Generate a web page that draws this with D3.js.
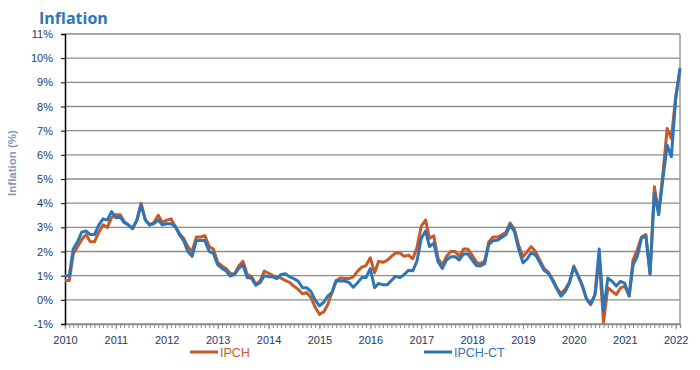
<!DOCTYPE html>
<html>
<head>
<meta charset="utf-8">
<script src="https://cdn.jsdelivr.net/npm/d3@7"></script>
<style>
  body { margin: 0; background: #fff; }
  svg { font-family: "Liberation Sans", Arial, sans-serif; }
</style>
</head>
<body>
<svg width="700" height="370"></svg>
<script>
// monthly values, Jan 2010 .. Feb 2022
const ipch = [
  0.8, 0.8, 1.9, 2.2, 2.5, 2.7, 2.4, 2.4, 2.8, 3.1, 3.0, 3.4,
  3.52, 3.52, 3.25, 3.1, 2.95, 3.3, 4.0, 3.3, 3.1, 3.2, 3.5, 3.2,
  3.3, 3.35, 3.05, 2.75, 2.55, 2.2, 2.0, 2.6, 2.6, 2.65, 2.2, 2.1,
  1.55, 1.4, 1.3, 1.1, 1.05, 1.4, 1.6, 1.05, 0.96, 0.65, 0.78, 1.19,
  1.1, 1.0, 0.95, 0.9, 0.8, 0.72, 0.57, 0.44, 0.25, 0.3, 0.1, -0.3,
  -0.6, -0.5, -0.2, 0.3, 0.8, 0.9, 0.88, 0.88, 0.95, 1.18, 1.35, 1.42,
  1.74, 1.12, 1.6, 1.55, 1.63, 1.8, 1.94, 1.94, 1.8, 1.85, 1.7, 2.15,
  3.05, 3.3, 2.55, 2.65, 1.72, 1.45, 1.8, 2.0, 2.0, 1.8, 2.1, 2.1,
  1.85, 1.55, 1.5, 1.6, 2.4, 2.6, 2.6, 2.68, 2.8, 3.18, 2.92, 2.25,
  1.78, 2.0, 2.2, 2.0, 1.65, 1.3, 1.15, 0.85, 0.5, 0.25, 0.45, 0.75,
  1.4, 1.0, 0.6, 0.05, -0.2, 0.2, 1.7, -0.93, 0.5, 0.36, 0.22, 0.49,
  0.57, 0.16, 1.65, 2.08, 2.6, 2.7, 1.1, 4.68, 3.6, 5.2, 7.09, 6.68,
  8.4, 9.5
];
const ipchCt = [
  1.0, 1.0, 2.1, 2.4, 2.8, 2.85, 2.7, 2.7, 3.1, 3.35, 3.3, 3.65,
  3.4, 3.42, 3.2, 3.1, 2.95, 3.3, 3.93, 3.3, 3.1, 3.15, 3.3, 3.1,
  3.15, 3.15, 3.05, 2.7, 2.45, 2.0, 1.8, 2.45, 2.47, 2.45, 2.0, 1.92,
  1.45, 1.3, 1.2, 0.98, 1.05, 1.3, 1.45, 0.92, 0.89, 0.6, 0.71, 1.0,
  0.96, 0.95, 0.88, 1.05, 1.08, 0.95, 0.88, 0.78, 0.5, 0.5, 0.35, 0.0,
  -0.25, -0.1, 0.15, 0.3, 0.78, 0.78, 0.78, 0.72, 0.52, 0.7, 0.92, 0.92,
  1.29, 0.5, 0.68, 0.62, 0.62, 0.8, 0.98, 0.92, 1.05, 1.22, 1.2, 1.6,
  2.55, 2.85, 2.2, 2.35, 1.58, 1.3, 1.65, 1.78, 1.78, 1.65, 1.9, 1.9,
  1.65, 1.42, 1.4, 1.5, 2.3, 2.45, 2.47, 2.58, 2.7, 3.1, 2.82, 2.1,
  1.53, 1.7, 1.95, 1.85, 1.55, 1.22, 1.1, 0.8, 0.45, 0.15, 0.35, 0.7,
  1.36, 0.98, 0.6, 0.03, -0.18, 0.23, 2.1, -0.45, 0.9, 0.77, 0.57, 0.77,
  0.68, 0.16, 1.45, 1.8, 2.55, 2.65, 1.05, 4.41, 3.52, 5.0, 6.4, 5.92,
  8.3, 9.6
];
const years = d3.range(2010, 2023);
const yTicks = d3.range(-1, 12);

const months = ipch.map((_, i) => new Date(2010, i, 1));

const svg = d3.select("svg");
const navy = "#1f3864";

const x = d3.scaleTime()
  .domain([months[0], months[months.length - 1]])
  .range([65, 680]);
const y = d3.scaleLinear().domain([-1, 11]).range([324, 34]);

// title
svg.append("text")
  .attr("x", 39).attr("y", 24)
  .attr("fill", "#2e75b6")
  .attr("font-size", 16)
  .attr("font-weight", "bold")
  .attr("font-family", "'Open Sans', sans-serif")
  .text("Inflation");

// gridlines
svg.append("g")
  .selectAll("line")
  .data(yTicks)
  .enter()
  .append("line")
  .attr("x1", 65).attr("x2", 680)
  .attr("y1", (d) => y(d)).attr("y2", (d) => y(d))
  .attr("stroke", "#8c8c8c")
  .attr("stroke-width", 1.3);

// right border
svg.append("line")
  .attr("x1", 680).attr("x2", 680)
  .attr("y1", y(11)).attr("y2", y(-1))
  .attr("stroke", "#8c8c8c").attr("stroke-width", 1.3);

// monthly minor ticks on the x axis
svg.append("g")
  .attr("transform", `translate(0, ${y(-1)})`)
  .call(d3.axisBottom(x).ticks(d3.timeMonth.every(1)).tickSize(4).tickFormat(""))
  .call((g) => g.select(".domain").attr("stroke", "#8c8c8c").attr("stroke-width", 1.3))
  .call((g) => g.selectAll(".tick line").attr("stroke", "#8c8c8c"));

// year labels
svg.append("g")
  .attr("transform", `translate(0, ${y(-1)})`)
  .call(d3.axisBottom(x).tickValues(years.map((yr) => new Date(yr, 0, 1)))
    .tickSize(5).tickPadding(7).tickFormat(d3.timeFormat("%Y")))
  .call((g) => g.select(".domain").remove())
  .call((g) => g.selectAll(".tick line").attr("stroke", "#8c8c8c"))
  .call((g) => g.selectAll("text").attr("fill", navy).attr("font-size", 11)
    .attr("font-family", "'Liberation Sans', sans-serif"));

// y axis
svg.append("g")
  .attr("transform", "translate(65, 0)")
  .call(d3.axisLeft(y).tickValues(yTicks).tickSize(4).tickPadding(8).tickFormat((d) => d + "%"))
  .call((g) => g.select(".domain").attr("stroke", "#000").attr("stroke-width", 1.5))
  .call((g) => g.selectAll(".tick line").attr("stroke", "#000"))
  .call((g) => g.selectAll("text").attr("fill", navy).attr("font-size", 11)
    .attr("font-family", "'Liberation Sans', sans-serif"));

// y axis title
svg.append("text")
  .attr("transform", "translate(16, 163) rotate(-90)")
  .attr("text-anchor", "middle")
  .attr("fill", "#8496b0")
  .attr("font-size", 11.5)
  .attr("font-weight", "bold")
  .text("Inflation (%)");

const line = (vals) => d3.line()
  .x((_, i) => x(months[i]))
  .y((d) => y(d))(vals);

const series = [
  { name: "IPCH", values: ipch, color: "#c55a2a", lx: 190 },
  { name: "IPCH-CT", values: ipchCt, color: "#2e75b6", lx: 424 }
];

svg.selectAll("path.series")
  .data(series)
  .enter()
  .append("path")
  .attr("class", "series")
  .attr("d", (d) => line(d.values))
  .attr("fill", "none")
  .attr("stroke", (d) => d.color)
  .attr("stroke-width", 3)
  .attr("stroke-linejoin", "round");

// legend
const leg = svg.selectAll("g.legend")
  .data(series)
  .enter()
  .append("g")
  .attr("class", "legend")
  .attr("transform", (d) => `translate(${d.lx}, 352)`);

leg.append("line")
  .attr("x1", 0).attr("x2", 28)
  .attr("stroke", (d) => d.color)
  .attr("stroke-width", 3);

leg.append("text")
  .attr("x", 30).attr("y", 4.5)
  .attr("fill", (d) => d.color)
  .attr("font-size", 12.5)
  .text((d) => d.name);
</script>
</body>
</html>
